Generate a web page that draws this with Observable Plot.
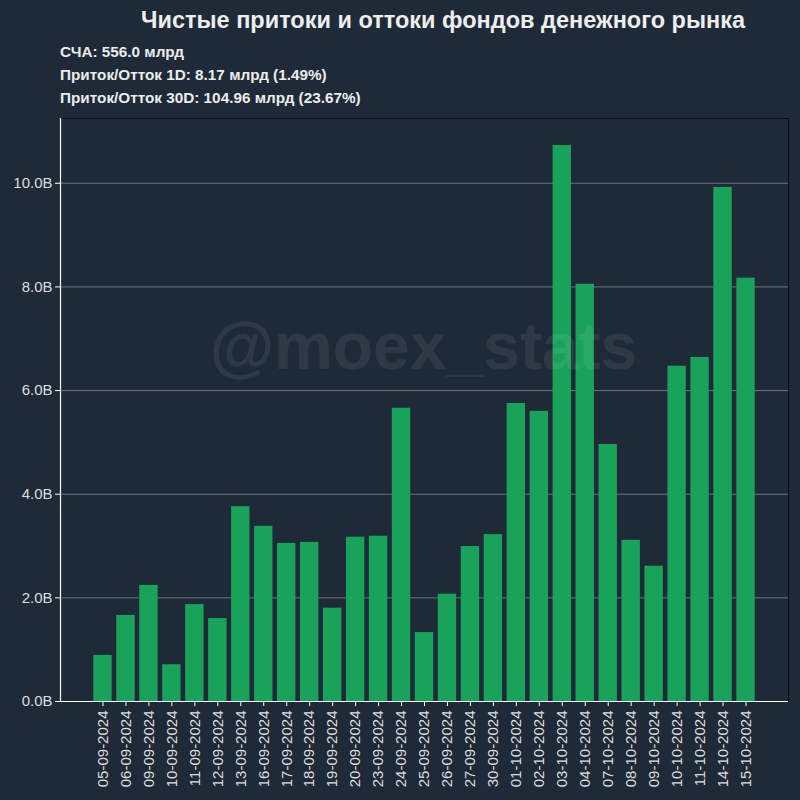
<!DOCTYPE html>
<html>
<head>
<meta charset="utf-8">
<script src="https://cdn.jsdelivr.net/npm/d3@7"></script>
<script src="https://cdn.jsdelivr.net/npm/@observablehq/plot@0.6"></script>
<style>
  html, body { margin: 0; padding: 0; background: #1f2a38; }
  #wrap { position: relative; width: 800px; height: 800px; background: #1f2a38; font-family: "Liberation Sans", Arial, sans-serif; color: #ececec; }
  #title { position: absolute; left: 0; width: 886px; top: 7px; text-align: center; font-size: 23.5px; font-weight: bold; color: #eeeeee; }
  .sub { position: absolute; left: 60px; font-size: 15.3px; color: #ececec; }
  .sub b { font-weight: bold; }
  #chart { position: absolute; left: 0; top: 0; }
</style>
</head>
<body>
<div id="wrap">
  <div id="chart"></div>
  <div id="title">Чистые притоки и оттоки фондов денежного рынка</div>
  <div class="sub" style="top:43px"><b>СЧА: 556.0 млрд</b></div>
  <div class="sub" style="top:66px"><b>Приток/Отток 1D: 8.17 млрд (1.49%)</b></div>
  <div class="sub" style="top:89px"><b>Приток/Отток 30D: 104.96 млрд (23.67%)</b></div>
</div>
<script>
const dates = ["05-09-2024","06-09-2024","09-09-2024","10-09-2024","11-09-2024","12-09-2024","13-09-2024","16-09-2024","17-09-2024","18-09-2024","19-09-2024","20-09-2024","23-09-2024","24-09-2024","25-09-2024","26-09-2024","27-09-2024","30-09-2024","01-10-2024","02-10-2024","03-10-2024","04-10-2024","07-10-2024","08-10-2024","09-10-2024","10-10-2024","11-10-2024","14-10-2024","15-10-2024"];
const flows = [0.89,1.66,2.24,0.71,1.87,1.60,3.76,3.38,3.05,3.07,1.80,3.17,3.19,5.66,1.33,2.07,2.99,3.22,5.75,5.60,10.73,8.05,4.96,3.11,2.61,6.47,6.64,9.92,8.17];
const yTicks = [0,2,4,6,8,10];
const watermark = "@moex_stats";

const data = dates.map((d, i) => ({date: d, value: flows[i]}));

const chart = Plot.plot({
  width: 800,
  height: 800,
  marginTop: 118,
  marginBottom: 99,
  marginLeft: 60,
  marginRight: 12,
  style: {background: "#1f2a38", color: "#dddddd", fontFamily: "Liberation Sans, Arial, sans-serif", fontSize: "15px"},
  x: {domain: dates, paddingInner: 0.2, paddingOuter: 1.45, round: false, label: null},
  y: {domain: [0, 11.25], label: null},
  marks: [
    Plot.gridY(yTicks.filter(t => t > 0), {stroke: "#6a7380", strokeOpacity: 1, strokeWidth: 1}),
    Plot.barY(data, {x: "date", y: "value", fill: "#19a35a"}),
    Plot.text([watermark], {frameAnchor: "middle", dx: -1, dy: -62, fontSize: 66, fontWeight: "bold", fill: "#ffffff", fillOpacity: 0.075, fontFamily: "Liberation Sans, Arial, sans-serif"}),
    Plot.frame({stroke: "#0b0f14", strokeWidth: 1}),
    Plot.frame({anchor: "left", stroke: "#ffffff", strokeWidth: 1.2}),
    Plot.ruleY([0], {stroke: "#ffffff", strokeWidth: 1.2}),
    Plot.axisY({ticks: yTicks, tickFormat: d => d.toFixed(1) + "B", tickSize: 5, tickPadding: 3, stroke: "#ffffff", fill: "#dddddd", fontSize: 15, label: null}),
    Plot.axisX({tickRotate: -90, tickSize: 5, tickPadding: 4, stroke: "#ffffff", fill: "#dddddd", fontSize: 15, label: null})
  ]
});
document.getElementById("chart").appendChild(chart);
</script>
</body>
</html>
